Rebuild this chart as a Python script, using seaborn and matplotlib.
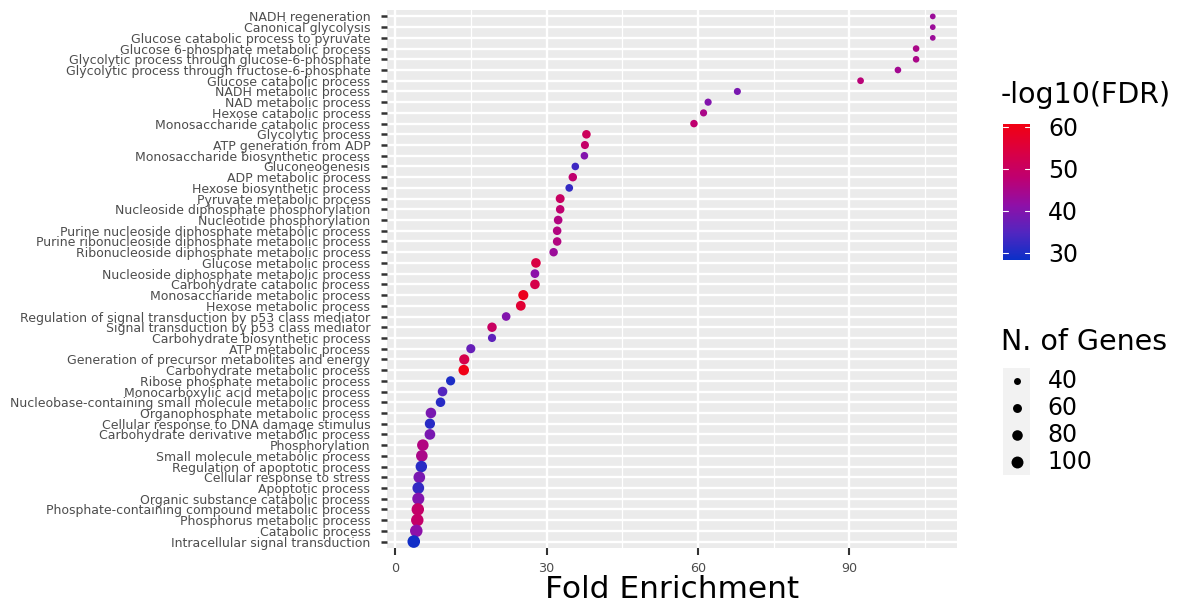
import pandas as pd
import matplotlib.pyplot as plt
import matplotlib.colors as mcolors
import seaborn as sns

W, H = 1193, 608

terms = [
    "NADH regeneration", "Canonical glycolysis", "Glucose catabolic process to pyruvate",
    "Glucose 6-phosphate metabolic process", "Glycolytic process through glucose-6-phosphate",
    "Glycolytic process through fructose-6-phosphate", "Glucose catabolic process",
    "NADH metabolic process", "NAD metabolic process", "Hexose catabolic process",
    "Monosaccharide catabolic process", "Glycolytic process", "ATP generation from ADP",
    "Monosaccharide biosynthetic process", "Gluconeogenesis", "ADP metabolic process",
    "Hexose biosynthetic process", "Pyruvate metabolic process",
    "Nucleoside diphosphate phosphorylation", "Nucleotide phosphorylation",
    "Purine nucleoside diphosphate metabolic process",
    "Purine ribonucleoside diphosphate metabolic process",
    "Ribonucleoside diphosphate metabolic process", "Glucose metabolic process",
    "Nucleoside diphosphate metabolic process", "Carbohydrate catabolic process",
    "Monosaccharide metabolic process", "Hexose metabolic process",
    "Regulation of signal transduction by p53 class mediator",
    "Signal transduction by p53 class mediator", "Carbohydrate biosynthetic process",
    "ATP metabolic process", "Generation of precursor metabolites and energy",
    "Carbohydrate metabolic process", "Ribose phosphate metabolic process",
    "Monocarboxylic acid metabolic process",
    "Nucleobase-containing small molecule metabolic process",
    "Organophosphate metabolic process", "Cellular response to DNA damage stimulus",
    "Carbohydrate derivative metabolic process", "Phosphorylation",
    "Small molecule metabolic process", "Regulation of apoptotic process",
    "Cellular response to stress", "Apoptotic process",
    "Organic substance catabolic process", "Phosphate-containing compound metabolic process",
    "Phosphorus metabolic process", "Catabolic process", "Intracellular signal transduction",
]

fold_enrichment = [
    106.5, 106.5, 106.5, 103.2, 103.2, 99.6, 92.2, 67.8, 62.0, 61.1,
    59.2, 37.9, 37.6, 37.5, 35.7, 35.2, 34.5, 32.7, 32.7, 32.3,
    32.1, 32.1, 31.4, 27.9, 27.7, 27.7, 25.4, 24.9, 22.0, 19.2,
    19.2, 15.0, 13.7, 13.6, 11.0, 9.4, 9.0, 7.1, 6.9, 6.9,
    5.5, 5.3, 5.2, 4.8, 4.6, 4.6, 4.5, 4.4, 4.2, 3.7,
]

neg_log_fdr = [
    43, 43, 43, 45, 45, 44, 47, 39, 40, 45,
    48, 51, 49, 40, 33, 48, 32, 50, 48, 46,
    46, 46, 43, 54, 41, 53, 59, 56, 40, 50,
    36, 37, 53, 60, 30, 35, 31, 39, 31, 39,
    46, 45, 31, 39, 32, 40, 49, 49, 41, 29,
]

n_genes = [
    30, 30, 30, 37, 37, 37, 38, 41, 42, 42,
    45, 56, 51, 46, 46, 55, 47, 60, 56, 57,
    56, 56, 55, 68, 58, 68, 74, 70, 57, 66,
    52, 62, 75, 80, 63, 68, 67, 80, 76, 82,
    94, 95, 93, 96, 97, 102, 108, 108, 109, 110,
]

fdr_ticks = [30, 40, 50, 60]
gene_breaks = [40, 60, 80, 100]

df = pd.DataFrame({"term": terms, "fold": fold_enrichment,
                   "fdr": neg_log_fdr, "genes": n_genes})

# blue -> purple -> red, matched to the reference colour bar
cmap = mcolors.LinearSegmentedColormap.from_list("bluered", [
    (0.0, "#0A2FC8"), (0.2, "#5226C0"), (0.4, "#8E10A8"),
    (0.6, "#BE0072"), (0.8, "#DA0042"), (1.0, "#F20012"),
])

fdr_lim = (28.3, 60.6)
size_lim = (30, 110)
size_range = (17, 82)


def size_of(g):
    return size_range[0] + (g - size_lim[0]) / (size_lim[1] - size_lim[0]) * (size_range[1] - size_range[0])


sns.set_theme(style="darkgrid", rc={"axes.facecolor": "#EBEBEB", "grid.color": "white"})
plt.rcParams["font.family"] = ["DejaVu Sans"]

fig = plt.figure(figsize=(W / 100, H / 100), dpi=100)
fig.patch.set_facecolor("white")
ax = fig.add_axes([387 / W, 1 - 548 / H, 570 / W, 538 / H])

sns.scatterplot(data=df, x="fold", y="term", hue="fdr", palette=cmap, hue_norm=fdr_lim,
                size="genes", sizes=size_range, size_norm=size_lim,
                linewidth=0, legend=False, ax=ax, zorder=3)

ax.set_xlim(-1.6, 111.3)
ax.set_ylim(len(terms) - 0.4, -0.6)
ax.set_xticks([0, 30, 60, 90])
ax.set_xticks([15, 45, 75, 105], minor=True)
ax.set_axisbelow(True)
ax.grid(which="major", color="white", linewidth=1.7)
ax.grid(which="minor", axis="x", color="white", linewidth=0.9)
for s in ax.spines.values():
    s.set_visible(False)

ax.tick_params(axis="y", which="major", length=4, width=1.8, color="#333333",
               labelsize=9.0, labelcolor="#4D4D4D", pad=8, left=True)
ax.tick_params(axis="x", which="major", length=5, width=1.5, color="#333333",
               labelsize=9.2, labelcolor="#4D4D4D", pad=5, bottom=True)
ax.tick_params(axis="x", which="minor", length=0)
ax.set_ylabel("")
ax.set_xlabel("Fold Enrichment", fontsize=22.5, color="black", labelpad=0)

# colour bar
cax = fig.add_axes([1003 / W, 1 - 260 / H, 27 / W, 136 / H])
sm = plt.cm.ScalarMappable(norm=mcolors.Normalize(*fdr_lim), cmap=cmap)
cb = fig.colorbar(sm, cax=cax)
cb.outline.set_visible(False)
cb.set_ticks(fdr_ticks)
cax.tick_params(length=0, labelsize=17, pad=13, labelcolor="black")
for v in fdr_ticks:
    cax.axhline(v, xmin=0, xmax=0.2, color="white", lw=0.8)
    cax.axhline(v, xmin=0.8, xmax=1, color="white", lw=0.8)
fig.text(1001 / W, 1 - 95 / H, "-log10(FDR)", fontsize=20.5, va="center", ha="left",
         color="black")

# size legend
kax = fig.add_axes([1003 / W, 1 - 475 / H, 27 / W, 107 / H])
kax.set_facecolor("#F2F2F2")
for i, g in enumerate(gene_breaks):
    kax.scatter(0.5, i, s=size_of(g), color="black", linewidth=0)
    kax.text(1.65, i, str(g), fontsize=17, va="center", ha="left", color="black",
             clip_on=False)
kax.set_xlim(0, 1)
kax.set_ylim(len(gene_breaks) - 0.5, -0.5)
kax.set_xticks([])
kax.set_yticks([])
kax.grid(False)
for s in kax.spines.values():
    s.set_visible(False)
fig.text(1001 / W, 1 - 342 / H, "N. of Genes", fontsize=20.5, va="center", ha="left",
         color="black")

fig.savefig("out.png", dpi=100)
